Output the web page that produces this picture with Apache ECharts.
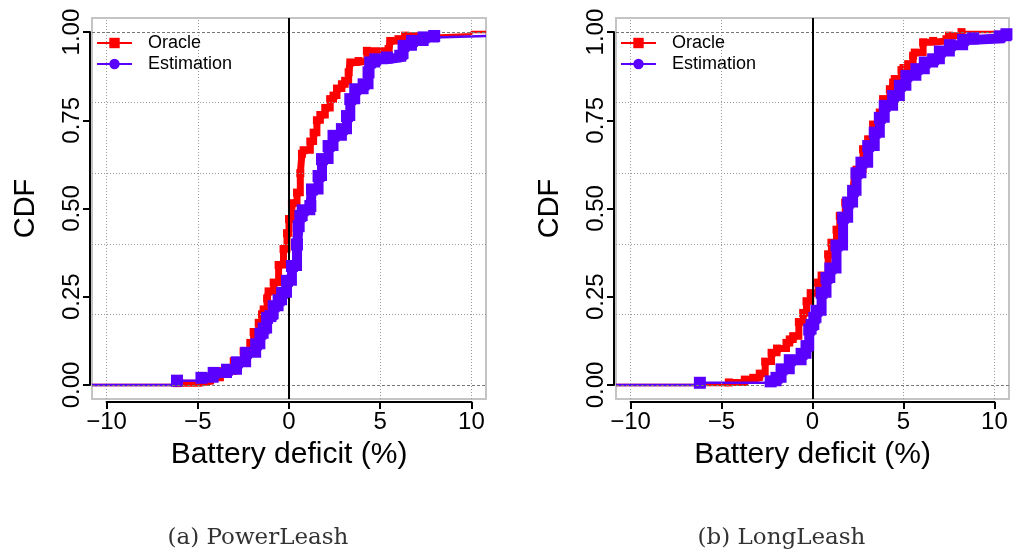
<!DOCTYPE html>
<html>
<head>
<meta charset="utf-8">
<script src="https://cdn.jsdelivr.net/npm/echarts@6/dist/echarts.min.js"></script>
<style>
  html, body { margin: 0; padding: 0; background: #fff; }
  #chart { width: 1013px; height: 555px; }
</style>
</head>
<body>
<div id="chart"></div>
<script>
// axis ranges (R default 4% padding around -10..10 and 0..1)
const xRange = [-10.8, 10.8];
const yRange = [-0.04, 1.04];
const xTickValues = [-10, -5, 0, 5, 10];
const yTickValues = [0, 0.25, 0.5, 0.75, 1];
const yGridValues = [0, 0.2, 0.4, 0.6, 0.8, 1];
const panelCaptions = ['(a) PowerLeash', '(b) LongLeash'];
const seriesNames = ['Oracle', 'Estimation'];

// (a) PowerLeash - Oracle
const powerOracleX = [-6.14, -4.86, -4.3, -3.76, -3.03, -2.49, -2.12, -1.94, -1.66, -1.48, -1.39, -1.2, -1.12, -0.84, -0.57, -0.3, -0.11, 0.0, 0.16, 0.44, 0.62, 0.71, 0.8, 1.17, 1.35, 1.53, 1.72, 1.99, 2.26, 2.44, 2.63, 2.9, 3.08, 3.27, 3.36, 3.81, 4.27, 5.46, 5.55, 6.0, 6.37, 7.92, 10.0];
const powerOracleY = [0.005, 0.01, 0.02, 0.039, 0.067, 0.095, 0.119, 0.15, 0.176, 0.2, 0.214, 0.245, 0.265, 0.29, 0.34, 0.385, 0.43, 0.47, 0.515, 0.545, 0.6, 0.655, 0.665, 0.69, 0.715, 0.75, 0.765, 0.785, 0.81, 0.82, 0.84, 0.852, 0.862, 0.886, 0.914, 0.918, 0.947, 0.952, 0.975, 0.98, 0.99, 0.994, 1.0];

// (a) PowerLeash - Estimation
const powerEstX = [-6.14, -4.8, -4.13, -3.4, -2.85, -2.35, -1.8, -1.57, -1.39, -1.2, -1.02, -0.84, -0.57, -0.38, -0.11, 0.16, 0.44, 0.53, 0.62, 0.75, 1.17, 1.26, 1.62, 1.81, 2.17, 2.44, 2.9, 3.18, 3.36, 3.63, 4.09, 4.36, 4.45, 4.73, 5.37, 6.1, 6.28, 6.74, 7.38, 7.96];
const powerEstY = [0.012, 0.02, 0.034, 0.043, 0.064, 0.091, 0.115, 0.145, 0.16, 0.19, 0.195, 0.223, 0.24, 0.261, 0.295, 0.337, 0.398, 0.45, 0.479, 0.495, 0.507, 0.554, 0.592, 0.64, 0.677, 0.706, 0.725, 0.762, 0.81, 0.838, 0.852, 0.886, 0.914, 0.923, 0.928, 0.933, 0.961, 0.975, 0.985, 0.989];

// (b) LongLeash - Oracle
const longOracleX = [-4.6, -3.72, -3.26, -2.9, -2.6, -2.25, -1.95, -1.43, -1.25, -1.06, -0.75, -0.51, -0.33, -0.1, 0.31, 0.5, 0.86, 1.04, 1.32, 1.5, 1.8, 2.23, 2.32, 2.42, 2.78, 3.06, 3.33, 3.7, 3.88, 4.25, 4.43, 4.52, 4.89, 5.0, 5.26, 5.53, 5.62, 6.08, 6.63, 7.36, 7.5, 8.19];
const longOracleY = [0.007, 0.015, 0.02, 0.032, 0.066, 0.091, 0.103, 0.119, 0.129, 0.138, 0.178, 0.204, 0.237, 0.26, 0.29, 0.31, 0.37, 0.403, 0.44, 0.479, 0.517, 0.554, 0.6, 0.61, 0.668, 0.696, 0.738, 0.772, 0.81, 0.838, 0.857, 0.867, 0.892, 0.898, 0.909, 0.933, 0.942, 0.971, 0.975, 0.98, 0.99, 1.0];

// (b) LongLeash - Estimation
const longEstX = [-6.19, -2.3, -1.98, -1.7, -1.25, -0.6, -0.33, -0.18, -0.05, 0.1, 0.22, 0.5, 0.77, 0.98, 1.32, 1.68, 1.96, 2.23, 2.42, 2.69, 3.06, 3.42, 3.7, 3.97, 4.43, 4.8, 5.16, 5.71, 6.17, 6.63, 7.0, 7.55, 8.28, 8.83, 10.29, 10.66];
const longEstY = [0.006, 0.01, 0.02, 0.044, 0.07, 0.088, 0.11, 0.157, 0.17, 0.19, 0.21, 0.261, 0.303, 0.33, 0.395, 0.474, 0.517, 0.55, 0.6, 0.63, 0.677, 0.715, 0.757, 0.791, 0.819, 0.848, 0.876, 0.895, 0.914, 0.923, 0.945, 0.963, 0.978, 0.982, 0.988, 0.994];

const chart = echarts.init(document.getElementById('chart'));
const font = '"Liberation Sans", Arial, Helvetica, sans-serif';
const red = '#ff0000';
const purple = '#5a00ff';

// plot boxes (gray frame) of the two panels
const boxes = [
    { left: 92, top: 18, width: 394, height: 381 },
    { left: 616, top: 18, width: 393, height: 381 }
];

// curves: lead/trail = points outside the thick band
const panels = [
    [
        { x: powerOracleX, y: powerOracleY, color: red, lead: 0, trail: 1, width: 7, size: 8 },
        { x: powerEstX, y: powerEstY, color: purple, lead: 1, trail: 0, width: 10, size: 12 }
    ],
    [
        { x: longOracleX, y: longOracleY, color: red, lead: 0, trail: 0, width: 7, size: 8 },
        { x: longEstX, y: longEstY, color: purple, lead: 1, trail: 0, width: 10, size: 12 }
    ]
];

// grid that spans exactly the tick range, for R-style axis lines
function tickGrid(b) {
    const sx = b.width / (xRange[1] - xRange[0]);
    const sy = b.height / (yRange[1] - yRange[0]);
    const x0 = xTickValues[0], x1 = xTickValues[xTickValues.length - 1];
    const y0 = yTickValues[0], y1 = yTickValues[yTickValues.length - 1];
    return {
        left: b.left + (x0 - xRange[0]) * sx,
        width: (x1 - x0) * sx,
        top: b.top + (yRange[1] - y1) * sy,
        height: (y1 - y0) * sy
    };
}

const grids = [], xAxes = [], yAxes = [], series = [], legends = [], titles = [];

boxes.forEach((b, p) => {
    const tg = tickGrid(b);
    const box = 2 * p, tick = 2 * p + 1;
    grids.push({ left: b.left, top: b.top, width: b.width, height: b.height, show: true,
        borderColor: '#c4c4c4', borderWidth: 2, backgroundColor: 'transparent' });
    grids.push({ left: tg.left, top: tg.top, width: tg.width, height: tg.height });

    xAxes.push({ gridIndex: box, type: 'value', min: xRange[0], max: xRange[1], show: false });
    yAxes.push({ gridIndex: box, type: 'value', min: yRange[0], max: yRange[1], show: false });

    xAxes.push({
        gridIndex: tick, type: 'value', min: xTickValues[0], max: xTickValues[xTickValues.length - 1],
        interval: 5, position: 'bottom', offset: (b.top + b.height) - (tg.top + tg.height) + 3,
        axisLine: { show: true, onZero: false, lineStyle: { color: '#000', width: 2 } },
        axisTick: { show: true, length: 7, lineStyle: { color: '#000', width: 2 } },
        axisLabel: { fontSize: 24, color: '#000', margin: 8, fontFamily: font,
            formatter: v => String(v).replace('-', '\u2212') },
        splitLine: { show: false },
        name: 'Battery deficit (%)', nameLocation: 'middle', nameGap: 38,
        nameTextStyle: { fontSize: 30, color: '#000', fontFamily: font }
    });
    yAxes.push({
        gridIndex: tick, type: 'value', min: 0, max: 1, interval: 0.25, position: 'left',
        offset: tg.left - (b.left - 2),
        axisLine: { show: true, onZero: false, lineStyle: { color: '#000', width: 2 } },
        axisTick: { show: true, length: 7, lineStyle: { color: '#000', width: 2 } },
        axisLabel: { fontSize: 24, color: '#000', margin: 6, rotate: 90, fontFamily: font,
            formatter: v => v.toFixed(2) },
        splitLine: { show: false },
        name: 'CDF', nameLocation: 'middle', nameGap: 50, nameRotate: 90,
        nameTextStyle: { fontSize: 29, color: '#000', fontFamily: font }
    });

    // gridlines
    const gridLineData = [];
    xTickValues.forEach(v => gridLineData.push({ xAxis: v }));
    yGridValues.forEach(v => {
        const edge = v === 0 || v === 1;
        gridLineData.push({ yAxis: v, lineStyle: edge ? { color: '#777', type: [3, 2] } : {} });
    });
    series.push({
        type: 'line', xAxisIndex: box, yAxisIndex: box, data: [], z: 1, silent: true,
        markLine: { silent: true, symbol: 'none', label: { show: false }, animation: false,
            lineStyle: { color: '#9a9a9a', type: [1, 2], width: 1 }, data: gridLineData }
    });

    panels[p].forEach((c, k) => {
        const pts = c.x.map((v, i) => [v, c.y[i]]);
        const n = pts.length;
        const thin = [[xRange[0], 0]].concat(pts, [[xRange[1], c.y[n - 1]]]);
        series.push({
            name: seriesNames[k], type: 'line', xAxisIndex: box, yAxisIndex: box, step: 'end',
            symbol: k === 0 ? 'rect' : 'circle', showSymbol: true, z: 2 + 2 * k,
            data: thin.map((d, i) => ({
                value: d,
                symbol: (i >= 1 && i <= c.lead) ? 'rect' : 'none',
                symbolSize: c.size
            })),
            lineStyle: { color: c.color, width: 2.5 },
            itemStyle: { color: c.color },
            emphasis: { disabled: true }
        });
        series.push({
            name: seriesNames[k], type: 'line', xAxisIndex: box, yAxisIndex: box, step: 'end',
            symbol: 'rect', symbolSize: c.size, showSymbol: true, showAllSymbol: true, z: 3 + 2 * k,
            data: pts.slice(c.lead, n - c.trail),
            lineStyle: { color: c.color, width: c.width, join: 'miter' },
            itemStyle: { color: c.color },
            emphasis: { disabled: true }
        });
    });

    // vertical line at zero
    series.push({
        type: 'line', xAxisIndex: box, yAxisIndex: box, data: [], z: 10, silent: true,
        markLine: { silent: true, symbol: 'none', label: { show: false }, animation: false,
            lineStyle: { color: '#000', type: 'solid', width: 2 }, data: [{ xAxis: 0 }] }
    });

    legends.push({
        left: b.left - 1, top: 29, orient: 'vertical', itemWidth: 35, itemHeight: 13, itemGap: 3,
        data: seriesNames, selectedMode: false,
        textStyle: { fontSize: 18, color: '#000', fontFamily: font, padding: [0, 0, 0, 11] }
    });
    titles.push({
        text: panelCaptions[p], left: b.left + b.width / 2 - 36, top: 522,
        textAlign: 'center',
        textStyle: { fontSize: 23, fontWeight: 'normal', color: '#333', fontFamily: '"DejaVu Serif", serif' }
    });
});

chart.setOption({
    animation: false,
    title: titles,
    legend: legends,
    grid: grids,
    xAxis: xAxes,
    yAxis: yAxes,
    series: series
});
</script>
</body>
</html>
